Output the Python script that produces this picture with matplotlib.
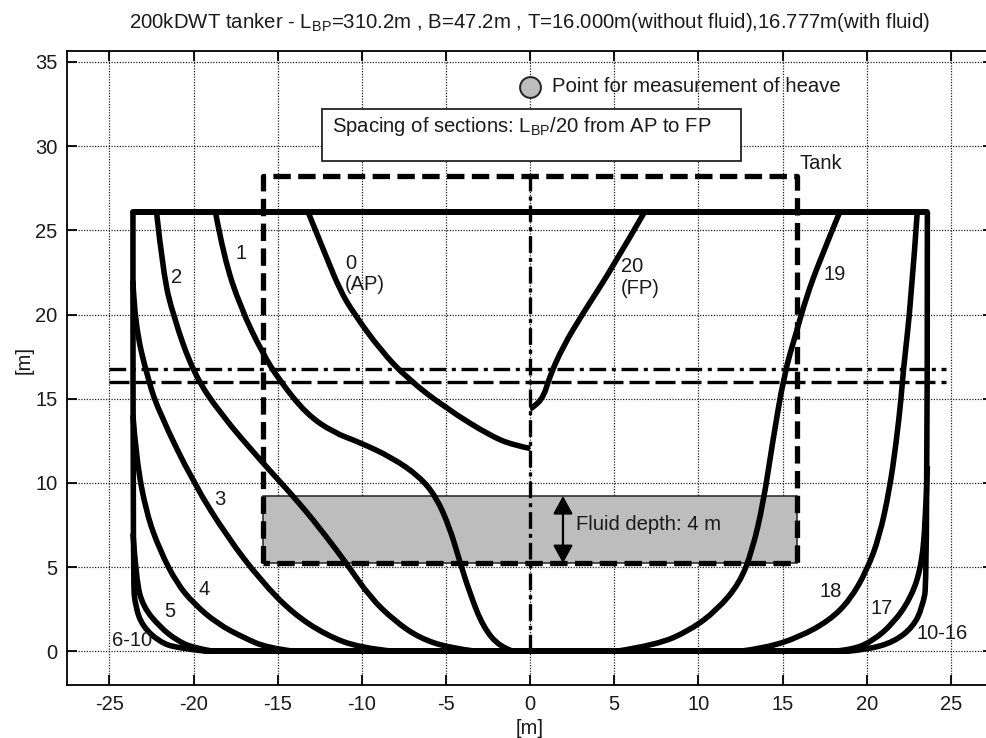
import matplotlib
matplotlib.use('Agg')
import matplotlib.pyplot as plt
from matplotlib.patches import PathPatch, Rectangle
from matplotlib.path import Path

plt.rcParams['font.family'] = ['Liberation Sans', 'DejaVu Sans']
plt.rcParams['mathtext.default'] = 'regular'
plt.rcParams['axes.unicode_minus'] = False

# hull sections (half breadth, height), in metres
sec0_x = [-13.2, -12.1, -11.3, -10.5, -8.9, -7.3, -4.95, -2.2, -0.8, 0]
sec0_y = [26.1, 23.4, 21.45, 20.1, 17.9, 16.2, 14.4, 12.7, 12.2, 12.05]
sec1_x = [-18.7, -18.2, -17.2, -15.9, -14.9, -13.3, -11.7, -10.1, -8.2, -6.6, -5.6, -4.8, -4.2, -3.6, -2.8, -1.8, -1.0]
sec1_y = [26.1, 23.4, 20.4, 17.7, 16.1, 14.1, 13.0, 12.4, 11.5, 10.4, 9.2, 7.4, 5.4, 3.5, 1.45, 0.25, 0]
sec2_x = [-22.2, -21.8, -21.2, -20.0, -18.4, -15.9, -13.7, -12.1, -10.9, -9.5, -8.1, -6.6, -4.8, -3.2]
sec2_y = [26.1, 22.4, 19.9, 16.5, 14.1, 11.2, 8.8, 6.8, 5.2, 3.2, 1.85, 0.8, 0.2, 0]
sec3_x = [-23.6, -23.5, -22.7, -22.0, -20.0, -18.0, -16.0, -14.1, -12.1, -10.1, -8.1]
sec3_y = [22.0, 19.5, 16.1, 14.1, 10.0, 6.8, 4.2, 2.25, 0.95, 0.2, 0]
sec4_x = [-23.6, -23.4, -22.8, -22.0, -21.0, -20.0, -18.6, -17.0, -15.6, -14.0]
sec4_y = [14.0, 11.4, 8.2, 6.0, 4.05, 2.85, 1.65, 0.8, 0.2, 0]
sec5_x = [-23.6, -23.4, -23.0, -22.0, -21.0, -20.0, -18.8]
sec5_y = [7.0, 4.2, 2.65, 1.45, 0.65, 0.2, 0]
sec6_x = [-23.6, -23.6, -23.45, -23.0, -22.0, -21.0, -19.2]
sec6_y = [26.1, 4.2, 2.6, 1.45, 0.55, 0.2, 0]
sec16_x = [23.6, 23.6, 23.3, 22.75, 21.6, 20.0, 18.8]
sec16_y = [26.1, 4.2, 2.6, 1.45, 0.55, 0.1, 0]
sec17_x = [23.6, 23.5, 23.2, 22.55, 21.55, 20.4, 19.2, 18.0]
sec17_y = [11.0, 7.6, 4.8, 3.05, 1.65, 0.65, 0.1, 0]
sec18_x = [23.0, 22.65, 22.15, 22.05, 21.75, 21.35, 20.75, 20.0, 19.0, 17.8, 16.0, 14.0, 12.45]
sec18_y = [26.1, 21.0, 16.5, 15.1, 12.4, 9.6, 6.8, 4.8, 3.05, 1.85, 0.85, 0.2, 0]
sec19_x = [18.4, 17.2, 16.4, 15.8, 15.1, 14.4, 13.85, 13.2, 12.45, 11.1, 9.5, 7.5, 5.1]
sec19_y = [26.1, 23.2, 21.0, 18.9, 16.5, 12.4, 8.8, 6.0, 4.05, 2.45, 1.25, 0.37, 0]
sec20_x = [6.8, 4.9, 3.15, 1.95, 1.15, 0.8, 0.2, 0]
sec20_y = [26.1, 22.8, 20.1, 18.1, 16.3, 15.1, 14.5, 14.4]

sections = [(sec0_x, sec0_y), (sec1_x, sec1_y), (sec2_x, sec2_y), (sec3_x, sec3_y),
            (sec4_x, sec4_y), (sec5_x, sec5_y), (sec6_x, sec6_y), (sec16_x, sec16_y),
            (sec17_x, sec17_y), (sec18_x, sec18_y), (sec19_x, sec19_y), (sec20_x, sec20_y)]

beam = 23.6
deck = 26.1
tank_half = 15.87
tank_bottom = 5.23
tank_top = 28.2
fluid_depth = 4.0
draft_dry = 16.0
draft_wet = 16.777

section_labels = ['0\n(AP)', '1', '2', '3', '4', '5', '6-10', '10-16', '17', '18', '19', '20\n(FP)']
label_x = [-11.0, -17.5, -21.35, -18.8, -19.7, -21.75, -24.85, 22.95, 20.2, 17.2, 17.4, 5.4]
label_y = [22.4, 23.6, 22.2, 9.0, 3.65, 2.35, 0.67, 1.07, 2.55, 3.57, 22.35, 22.2]

xticks = [-25, -20, -15, -10, -5, 0, 5, 10, 15, 20, 25]
yticks = [0, 5, 10, 15, 20, 25, 30, 35]


# the read points as quadratic curve segments, so the section stays smooth
def section_path(sx, sy):
    pts = list(zip(sx, sy))
    verts = [pts[0]]
    codes = [Path.MOVETO]
    for i in range(1, len(pts) - 1):
        if i == len(pts) - 2:
            end = pts[i + 1]
        else:
            end = ((pts[i][0] + pts[i + 1][0]) / 2, (pts[i][1] + pts[i + 1][1]) / 2)
        verts += [pts[i], end]
        codes += [Path.CURVE3, Path.CURVE3]
    return Path(verts, codes)


fig = plt.figure(figsize=(9.87, 7.38), dpi=100)
ax = fig.add_axes([67.3 / 987, 53 / 738, (993 - 67.3) / 987, (685 - 50.7) / 738])
ax.set_xlim(-27.5, 27.5)
ax.set_ylim(-2, 35.67)

ax.set_axisbelow(True)
ax.grid(True, color='#222222', linestyle=(0, (1, 1.2)), linewidth=0.9)
ax.set_xticks(xticks)
ax.set_yticks(yticks)
ax.tick_params(direction='in', length=7, width=1.3, labelsize=14.5, top=True, right=True,
               labelcolor='#1a1a1a', pad=7)
for s in ax.spines.values():
    s.set_linewidth(1.3)

# fluid in the tank
ax.add_patch(Rectangle((-tank_half, tank_bottom), 2 * tank_half, fluid_depth, facecolor='#bdbdbd',
                       edgecolor='#222222', linewidth=1.1, zorder=2))

# center line and waterlines
ax.plot([0, 0], [0, tank_top], color='k', linewidth=2.4, linestyle=(0, (5, 1.5, 1.2, 1.5)), zorder=3)
ax.plot([-25, 24.7], [draft_wet, draft_wet], color='k', linewidth=2.4, linestyle=(0, (5, 1.7, 1.2, 1.7)), zorder=3)
ax.plot([-25, 24.7], [draft_dry, draft_dry], color='k', linewidth=2.4, linestyle=(0, (6, 1.8)), zorder=3)

# tank outline
ax.plot([-tank_half, -tank_half, tank_half, tank_half, -tank_half],
        [tank_bottom, tank_top, tank_top, tank_bottom, tank_bottom],
        color='k', linewidth=3.8, linestyle=(0, (3.3, 1.4)), zorder=4)

# hull
ax.plot([-beam, beam], [deck, deck], color='k', linewidth=4.3, solid_capstyle='round', zorder=5)
ax.plot([-19.2, 18.8], [0, 0], color='k', linewidth=4.3, zorder=5)
for sx, sy in sections:
    ax.add_patch(PathPatch(section_path(sx, sy), facecolor='none', edgecolor='k', linewidth=4.0,
                           capstyle='butt', joinstyle='round', zorder=5))

for lab, lx, ly in zip(section_labels, label_x, label_y):
    ax.text(lx, ly, lab, fontsize=14.5, color='#1a1a1a', ha='left', va='center', linespacing=1.15, zorder=6)

# heave point
ax.plot([0], [33.5], 'o', markersize=15, markerfacecolor='#bdbdbd', markeredgecolor='#222222',
        markeredgewidth=1.4, zorder=6)
ax.text(1.3, 33.55, 'Point for measurement of heave', fontsize=14.6, color='#1a1a1a', va='center', zorder=6)

# notes
ax.add_patch(Rectangle((-12.35, 29.1), 24.85, 3.1, facecolor='white', edgecolor='#222222', linewidth=1.3, zorder=6))
ax.text(-11.75, 31.15, 'Spacing of sections: L$_{BP}$/20 from AP to FP', fontsize=14.6, color='#1a1a1a',
        va='center', zorder=7)
ax.text(16.0, 28.95, 'Tank', fontsize=14.5, color='#1a1a1a', va='center', zorder=6)
ax.annotate('', xy=(1.95, tank_bottom), xytext=(1.95, tank_bottom + fluid_depth),
            arrowprops=dict(arrowstyle='<|-|>,head_length=1.1,head_width=0.6', color='k', linewidth=1.6,
                            shrinkA=0, shrinkB=0), zorder=7)
ax.text(2.7, 7.56, 'Fluid depth: 4 m', fontsize=14.6, color='#1a1a1a', va='center', zorder=7)

fig.text(530 / 987, 1 - 22 / 738, '200kDWT tanker - L$_{BP}$=310.2m , B=47.2m , T=16.000m(without fluid),16.777m(with fluid)',
         fontsize=14.7, color='#1a1a1a', ha='center', va='center')
fig.text(530 / 987, 1 - 728 / 738, '[m]', fontsize=14.5, color='#1a1a1a', ha='center', va='center')
fig.text(24 / 987, 1 - 360 / 738, '[m]', fontsize=14.5, color='#1a1a1a', ha='center', va='center', rotation=90)

fig.savefig('out.png', dpi=100)
